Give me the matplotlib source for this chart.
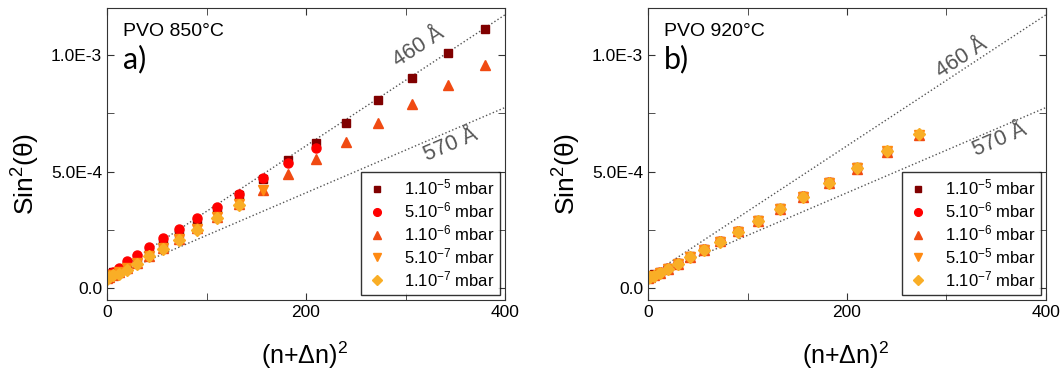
import matplotlib
matplotlib.use('Agg')
import matplotlib.pyplot as plt
from matplotlib.ticker import FixedLocator, FixedFormatter

plt.rcParams['font.family'] = ['Liberation Sans', 'DejaVu Sans']
plt.rcParams['mathtext.fontset'] = 'custom'
plt.rcParams['mathtext.rm'] = 'Liberation Sans'
plt.rcParams['mathtext.it'] = 'Liberation Sans:italic'

# (n + dn)^2 positions
x_n = [0.25, 2.25, 6.25, 12.25, 20.25, 30.25, 42.25, 56.25, 72.25, 90.25,
       110.25, 132.25, 156.25, 182.25, 210.25, 240.25, 272.25, 306.25, 342.25, 380.25]

# panel a) PVO 850C, sin^2(theta) in units of 1e-3
a_1e5 = [0.050, 0.058, 0.068, 0.080, 0.101, 0.130, 0.161, 0.196, 0.236, 0.286,
         0.340, 0.400, 0.468, 0.549, 0.623, 0.708, 0.808, 0.902, 1.008, 1.109]
a_5e6 = [0.054, 0.060, 0.068, 0.087, 0.115, 0.144, 0.177, 0.215, 0.253, 0.300,
         0.350, 0.404, 0.471, 0.535, 0.599]
a_1e6 = [0.045, 0.050, 0.058, 0.068, 0.085, 0.108, 0.138, 0.172, 0.212, 0.258,
         0.305, 0.362, 0.421, 0.488, 0.553, 0.627, 0.707, 0.787, 0.870, 0.954]
a_5e7 = [0.045, 0.050, 0.058, 0.068, 0.085, 0.108, 0.140, 0.172, 0.212, 0.255,
         0.305, 0.362, 0.421]
a_1e7 = [0.042, 0.048, 0.056, 0.063, 0.080, 0.105, 0.137, 0.168, 0.208, 0.250,
         0.300, 0.355]

# panel b) PVO 920C
b_1e5 = [0.046, 0.052, 0.060, 0.071, 0.088, 0.110, 0.138, 0.168, 0.203, 0.246,
         0.292, 0.342, 0.395, 0.454, 0.518, 0.588]
b_5e6 = [0.045, 0.050, 0.058, 0.069, 0.086, 0.108, 0.136, 0.167, 0.202, 0.245,
         0.290, 0.341, 0.394, 0.453, 0.517, 0.587]
b_1e6 = [0.044, 0.048, 0.056, 0.067, 0.084, 0.106, 0.135, 0.166, 0.201, 0.244,
         0.289, 0.339, 0.391, 0.449, 0.511, 0.584, 0.657]
b_5e5 = [0.043, 0.047, 0.054, 0.066, 0.083, 0.105, 0.134, 0.165, 0.200, 0.243,
         0.289, 0.340, 0.393, 0.452, 0.514, 0.586, 0.658]
b_1e7 = [0.043, 0.047, 0.054, 0.066, 0.083, 0.105, 0.134, 0.165, 0.200, 0.243,
         0.289, 0.340, 0.393, 0.452, 0.516, 0.587, 0.659]

# thickness reference lines (end points, 1e-3 units)
line_x = [0, 400]
line_460 = [0.049, 1.171]
line_570 = [0.044, 0.774]

labels_a = [r'1.10$^{-5}$ mbar', r'5.10$^{-6}$ mbar', r'1.10$^{-6}$ mbar',
            r'5.10$^{-7}$ mbar', r'1.10$^{-7}$ mbar']
labels_b = [r'1.10$^{-5}$ mbar', r'5.10$^{-6}$ mbar', r'1.10$^{-6}$ mbar',
            r'5.10$^{-5}$ mbar', r'1.10$^{-7}$ mbar']

colors = ['#800000', '#ff0000', '#f04a12', '#ff8a12', '#f9ae26']
markers = ['s', 'o', '^', 'v', 'D']
msizes = [5.5, 6.5, 7, 7, 6]

fig = plt.figure(figsize=(10.63, 3.71), dpi=100)
ax1 = fig.add_axes([0.1007, 0.1914, 0.3744, 0.787])
ax2 = fig.add_axes([0.6096, 0.1914, 0.3744, 0.787])


def draw(ax, series, labels, title, tag, pos460, pos570):
    ax.plot(line_x, [v * 1e-3 for v in line_460], ls=':', color='#555555', lw=1)
    ax.plot(line_x, [v * 1e-3 for v in line_570], ls=':', color='#555555', lw=1)
    for vals, lab, c, m, s in zip(series, labels, colors, markers, msizes):
        ax.plot(x_n[:len(vals)], [v * 1e-3 for v in vals], ls='none', marker=m,
                ms=s, color=c, mec=c, label=lab)
    ax.set_xlim(0, 400)
    ax.set_ylim(-5e-5, 1.2e-3)
    ax.xaxis.set_major_locator(FixedLocator([0, 200, 400]))
    ax.xaxis.set_minor_locator(FixedLocator([100, 300]))
    ax.yaxis.set_major_locator(FixedLocator([0, 5e-4, 1e-3]))
    ax.yaxis.set_major_formatter(FixedFormatter(['0.0', '5.0E-4', '1.0E-3']))
    ax.yaxis.set_minor_locator(FixedLocator([2.5e-4, 7.5e-4]))
    ax.tick_params(which='both', direction='in', top=True, right=True,
                   labelsize=12.5, length=5, color='#333333')
    for sp in ax.spines.values():
        sp.set_color('#333333')
    ax.set_xlabel('(n+Δn)$^2$', fontsize=18)
    ax.xaxis.label.set_va('center')
    ax.xaxis.set_label_coords(0.497, -0.19)
    ax.set_ylabel('Sin$^2$(θ)', fontsize=19)
    ax.yaxis.label.set_va('center')
    ax.yaxis.set_label_coords(-0.205, 0.43)
    ax.text(0.04, 0.918, title, transform=ax.transAxes, fontsize=14,
            va='center', ha='left')
    ax.text(0.04, 0.825, tag, transform=ax.transAxes, fontsize=22,
            va='center', ha='left', family=['Lato', 'DejaVu Sans'])
    ax.text(pos460[0], pos460[1], '460 Å', rotation=33, fontsize=15.5,
            color='#555555', ha='center', va='center')
    ax.text(pos570[0], pos570[1], '570 Å', rotation=23, fontsize=15.5,
            color='#555555', ha='center', va='center')
    leg = ax.legend(loc='lower right', fontsize=12, frameon=True, fancybox=False,
                    edgecolor='black', borderaxespad=0.3, handletextpad=1.0,
                    labelspacing=0.18, handlelength=1.2, borderpad=0.35,
                    markerscale=0.85)
    leg.get_frame().set_linewidth(1)


draw(ax1, [a_1e5, a_5e6, a_1e6, a_5e7, a_1e7], labels_a, 'PVO 850°C', 'a)',
     (313, 1.031e-3), (345, 0.613e-3))
draw(ax2, [b_1e5, b_5e6, b_1e6, b_5e5, b_1e7], labels_b, 'PVO 920°C', 'b)',
     (315, 0.985e-3), (354, 0.634e-3))

fig.savefig('out.png', dpi=100)
